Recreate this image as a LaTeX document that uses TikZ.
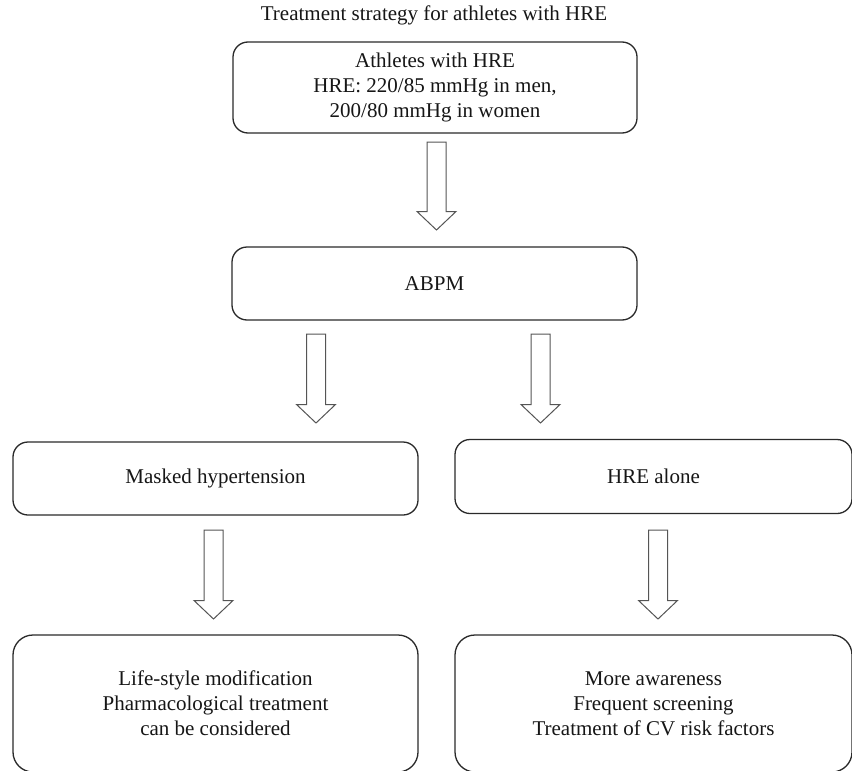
\documentclass[tikz,border=0pt]{standalone}
\usepackage{fontspec}
\setmainfont{Liberation Serif}
\usetikzlibrary{calc}
\definecolor{boxcol}{HTML}{2A2A2A}
\definecolor{arrcol}{HTML}{555555}
\definecolor{txtcol}{HTML}{161616}
\tikzset{
  txt/.style={text=txtcol, font=\fontsize{21}{25}\selectfont, align=center, inner sep=0pt},
  box/.style={txt, draw=boxcol, line width=1.3pt, rounded corners=15pt},
  bigbox/.style={box, rounded corners=20pt},
  blockarrow/.style={draw=arrcol, line width=1pt, fill=white, line join=miter},
}
\newcommand\hollowarr[2]{%
  \draw[blockarrow] ($(#1)+(-9.5,0)$) -- ($(#2)+(-9.5,-18.5)$) -- ($(#2)+(-19.5,-18.5)$) -- (#2)
    -- ($(#2)+(19.5,-18.5)$) -- ($(#2)+(9.5,-18.5)$) -- ($(#1)+(9.5,0)$) -- cycle;}
\begin{document}
\begin{tikzpicture}[x=1pt,y=-1pt]
  \useasboundingbox (0,0) rectangle (852,771);
  \clip (0,0) rectangle (852,771);
  \fill[white] (0,0) rectangle (852,771);

  \node[txt] (title) at (434,15) {Treatment strategy for athletes with HRE};
  \node[box, minimum width=404pt, minimum height=91pt] (box1) at (435,87.5)
    {Athletes with HRE\\HRE: 220/85 mmHg in men,\\200/80 mmHg in women};
  \node[box, minimum width=405pt, minimum height=73pt] (abpm) at (434.5,283.5) {ABPM};
  \node[box, minimum width=405pt, minimum height=73pt] (mh) at (215.5,478.5) {Masked hypertension};
  \node[box, minimum width=397pt, minimum height=74pt] (hre) at (653.5,476.5) {HRE alone};
  \node[bigbox, minimum width=405pt, minimum height=137pt] (ls) at (215.5,703.5)
    {Life-style modification\\Pharmacological treatment\\can be considered};
  \node[bigbox, minimum width=397pt, minimum height=137pt] (aw) at (653.5,703.5)
    {More awareness\\Frequent screening\\Treatment of CV risk factors};

  \coordinate (a1t) at (436.5,142);   \coordinate (a1h) at (436.5,230);
  \coordinate (a2lt) at (316,334);    \coordinate (a2lh) at (316,423);
  \coordinate (a2rt) at (540.5,334);  \coordinate (a2rh) at (540.5,423);
  \coordinate (a3lt) at (213.5,530);  \coordinate (a3lh) at (213.5,619);
  \coordinate (a3rt) at (658,530);    \coordinate (a3rh) at (658,619);

  \hollowarr{a1t}{a1h}
  \hollowarr{a2lt}{a2lh}
  \hollowarr{a2rt}{a2rh}
  \hollowarr{a3lt}{a3lh}
  \hollowarr{a3rt}{a3rh}
\end{tikzpicture}
\end{document}
